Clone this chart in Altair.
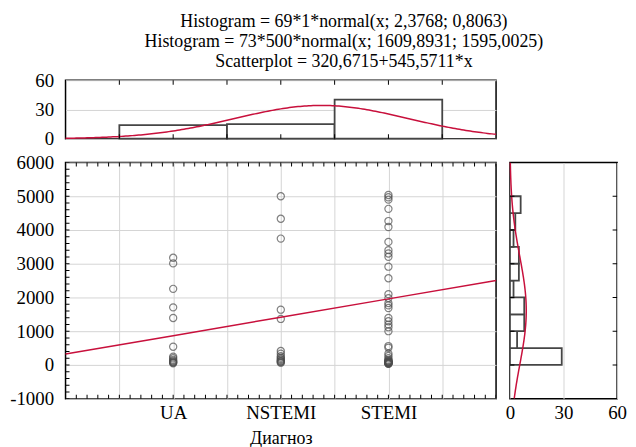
import altair as alt
import pandas as pd

# ---- data ----
categories = ["UA", "NSTEMI", "STEMI"]
category_codes = [1, 2, 3]

ua_values = [3176, 3010, 2255, 1706, 1392, 539, 245, 196, 150, 120, 98, 80, 68, 50]
nstemi_values = [5000, 4333, 3745, 1637, 1363, 412, 333, 260, 216, 180, 150, 120, 100, 88, 60]
stemi_values = [5038, 4970, 4900, 4627, 4265, 4088, 3647, 3402, 3304, 3206, 2912, 2569,
                2098, 1980, 1833, 1765, 1686, 1392, 1294, 1196, 1118, 1000, 559, 510,
                333, 265, 196, 150, 130, 110, 98, 90, 80, 70, 60, 55, 50, 45, 40, 30]

top_bin_start = [0.5, 1.5, 2.5]
top_bin_end = [1.5, 2.5, 3.5]
top_counts = [14, 15, 40]

right_bin_start = [0, 500, 1000, 1500, 2000, 2500, 3000, 3500, 4000, 4500]
right_bin_end = [500, 1000, 1500, 2000, 2500, 3000, 3500, 4000, 4500, 5000]
right_counts = [29, 4, 8, 8, 2, 5, 5, 2, 3, 6]

y_ticks = [-1000, 0, 1000, 2000, 3000, 4000, 5000, 6000]
x_ticks = [0.5, 1, 1.5, 2, 2.5, 3, 3.5]
count_ticks = [0, 30, 60]
y_minor_ticks = list(range(-1000, 6001, 200))
x_minor_ticks = [i / 10 for i in range(0, 41)]

# fitted functions given in the title
reg_a, reg_b = 320.6715, 545.5711
nx, wx, mux, sdx = 69, 1, 2.3768, 0.8063
ny, wy, muy, sdy = 73, 500, 1609.8931, 1595.0025

title_lines = [
    "Histogram = 69*1*normal(x; 2,3768; 0,8063)",
    "Histogram = 73*500*normal(x; 1609,8931; 1595,0025)",
    "Scatterplot = 320,6715+545,5711*x",
]

RED = "#c8103c"
GRAY = "#4d4d4d"
BAR = "#454545"
GRID = "#d4d4d4"
FONT = "Liberation Serif"

points = pd.DataFrame(
    [{"code": c, "value": v}
     for c, vals in zip(category_codes, [ua_values, nstemi_values, stemi_values])
     for v in vals]
)
top_hist = pd.DataFrame({"x0": top_bin_start, "x1": top_bin_end, "count": top_counts})
right_hist = pd.DataFrame({"y0": right_bin_start, "y1": right_bin_end, "count": right_counts})

label_expr = " : ".join(
    [f"datum.value == {c} ? '{n}'" for c, n in zip(category_codes, categories)]
) + " : ''"

xscale = alt.Scale(domain=[0, 4], nice=False, zero=False)
yscale = alt.Scale(domain=[-1000, 6000], nice=False, zero=False)
cscale = alt.Scale(domain=[0, 60], nice=False)

# ---- axes ----
main_x_axis = alt.Axis(values=x_ticks, labelExpr=label_expr, labelOverlap=False,
                       grid=True, ticks=False, domain=False, title="Диагноз",
                       labelPadding=5, titlePadding=7, labelFlush=False)
main_y_axis = alt.Axis(values=y_ticks, labelExpr="'' + datum.value", labelOverlap=False,
                       grid=True, ticks=False, domain=False, title=None, labelPadding=12)
top_y_axis = alt.Axis(values=count_ticks, labelExpr="'' + datum.value", labelOverlap=False,
                      grid=True, ticks=False, domain=False, title=None, labelPadding=12)
right_x_axis = alt.Axis(values=count_ticks, labelExpr="'' + datum.value", labelOverlap=False,
                        grid=True, ticks=False, domain=False, title=None, labelPadding=5,
                        labelFlush=False)


def edge_ticks(values, field, orient, x_enc, y_enc, length=8):
    """Short inward tick marks along a frame edge (clipped to the plot area)."""
    return alt.Chart(pd.DataFrame({field: values})).mark_tick(
        orient=orient, size=length, thickness=1, color="black", clip=True, opacity=1
    ).encode(x=x_enc, y=y_enc)


# ---- main scatter ----
pts = alt.Chart(points).mark_point(shape="circle", filled=False, color=GRAY,
                                   size=52, strokeWidth=1.2).encode(
    x=alt.X("code:Q", scale=xscale, axis=main_x_axis),
    y=alt.Y("value:Q", scale=yscale, axis=main_y_axis),
)
reg = alt.Chart(alt.sequence(0, 4.01, 1, as_="x")).transform_calculate(
    y=f"{reg_a} + {reg_b} * datum.x"
).mark_line(color=RED, strokeWidth=1.5).encode(
    x=alt.X("x:Q", scale=xscale, axis=main_x_axis),
    y=alt.Y("y:Q", scale=yscale, axis=main_y_axis),
)
main_left_ticks = edge_ticks(
    y_minor_ticks, "t", "horizontal",
    alt.X(datum=0, scale=xscale, axis=main_x_axis),
    alt.Y("t:Q", scale=yscale, axis=main_y_axis))
main_top_ticks = edge_ticks(
    x_minor_ticks, "t", "vertical",
    alt.X("t:Q", scale=xscale, axis=main_x_axis),
    alt.Y(datum=6000, scale=yscale, axis=main_y_axis))
main_bottom_ticks = edge_ticks(
    x_minor_ticks, "t", "vertical",
    alt.X("t:Q", scale=xscale, axis=main_x_axis),
    alt.Y(datum=-1000, scale=yscale, axis=main_y_axis))
main = alt.layer(pts, reg, main_left_ticks, main_top_ticks, main_bottom_ticks).properties(
    width=434, height=238)

# ---- top histogram ----
top_bars = alt.Chart(top_hist).mark_rect(fill="white", stroke=BAR, strokeWidth=1.8).encode(
    x=alt.X("x0:Q", scale=xscale, axis=None),
    x2="x1:Q",
    y=alt.Y("count:Q", scale=cscale, axis=top_y_axis),
    y2=alt.datum(0),
)
top_curve = alt.Chart(alt.sequence(0, 4.001, 0.02, as_="x")).transform_calculate(
    y=f"{nx}*{wx}*exp(-0.5*pow((datum.x-{mux})/{sdx},2))/({sdx}*sqrt(2*PI))"
).mark_line(color=RED, strokeWidth=1.5).encode(
    x=alt.X("x:Q", scale=xscale, axis=None),
    y=alt.Y("y:Q", scale=cscale, axis=top_y_axis),
)
top_up_ticks = edge_ticks(
    x_ticks, "t", "vertical",
    alt.X("t:Q", scale=xscale, axis=None),
    alt.Y(datum=60, scale=cscale, axis=top_y_axis), length=9)
top_low_ticks = edge_ticks(
    x_ticks, "t", "vertical",
    alt.X("t:Q", scale=xscale, axis=None),
    alt.Y(datum=0, scale=cscale, axis=top_y_axis), length=9)
top = alt.layer(top_bars, top_curve, top_up_ticks, top_low_ticks).properties(
    width=434, height=59)

# ---- right histogram ----
right_bars = alt.Chart(right_hist).mark_rect(fill="white", stroke=BAR, strokeWidth=1.8).encode(
    y=alt.Y("y0:Q", scale=yscale, axis=None),
    y2="y1:Q",
    x=alt.X("count:Q", scale=cscale, axis=right_x_axis),
    x2=alt.datum(0),
)
right_curve = alt.Chart(alt.sequence(-1000, 6001, 50, as_="v")).transform_calculate(
    c=f"{ny}*{wy}*exp(-0.5*pow((datum.v-{muy})/{sdy},2))/({sdy}*sqrt(2*PI))"
).mark_line(color=RED, strokeWidth=1.5).encode(
    y=alt.Y("v:Q", scale=yscale, axis=None),
    x=alt.X("c:Q", scale=cscale, axis=right_x_axis),
    order="v:Q",
)
right_r_ticks = edge_ticks(
    y_ticks, "t", "horizontal",
    alt.X(datum=60, scale=cscale, axis=right_x_axis),
    alt.Y("t:Q", scale=yscale, axis=None), length=9)
right_l_ticks = edge_ticks(
    y_ticks, "t", "horizontal",
    alt.X(datum=0, scale=cscale, axis=right_x_axis),
    alt.Y("t:Q", scale=yscale, axis=None), length=9)
right = alt.layer(right_bars, right_curve, right_r_ticks, right_l_ticks).properties(
    width=108, height=238)

spacer = alt.Chart(pd.DataFrame({"a": [0]})).mark_point(opacity=0).encode(
    x=alt.X("a:Q", axis=None), y=alt.Y("a:Q", axis=None)
).properties(width=108, height=59, view=alt.ViewConfig(strokeOpacity=0))

chart = alt.concat(top, spacer, main, right, columns=2,
                   spacing={"row": 24, "column": 14}, bounds="flush", align="each").properties(
    title=alt.TitleParams(text=title_lines, font=FONT, fontSize=18, fontWeight="normal",
                          anchor="middle", lineHeight=20, offset=0, color="black", dx=26),
    padding={"left": 0, "top": 3, "right": 0, "bottom": 0},
).configure_view(stroke="black", strokeWidth=1.5).configure_axis(
    labelFont=FONT, labelFontSize=19, labelColor="black", titleFont=FONT,
    titleFontSize=18, titleFontWeight="normal", titleColor="black",
    gridColor=GRID, gridWidth=1, labelOverlap=False,
).configure_title(font=FONT, fontWeight="normal")

chart.save("out.html", embed_options={"renderer": "svg", "actions": False})
